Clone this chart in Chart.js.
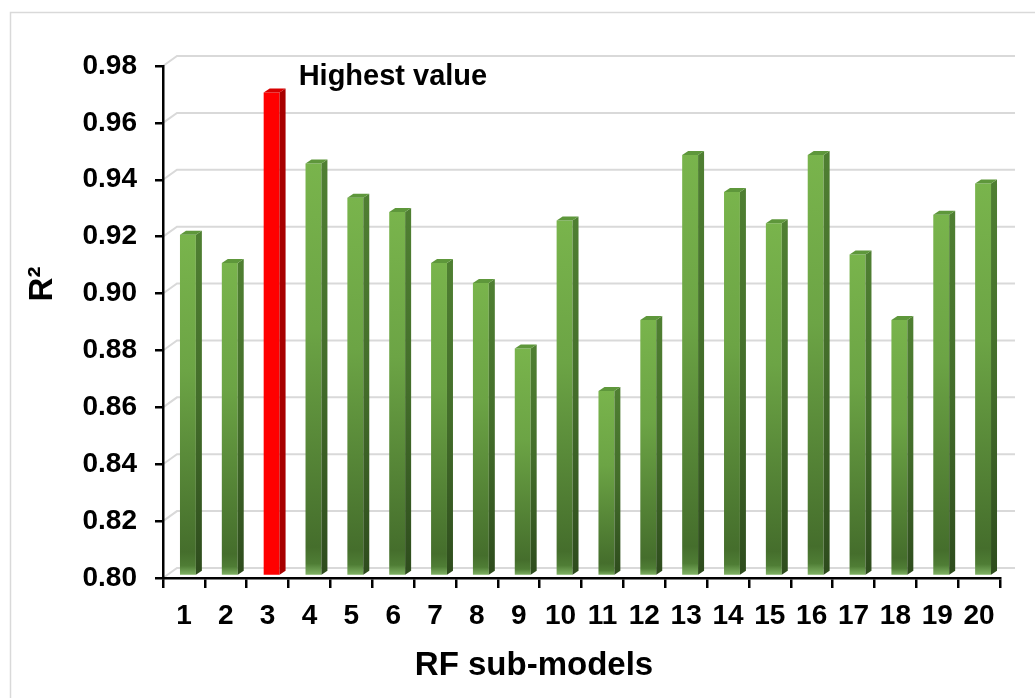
<!DOCTYPE html>
<html>
<head>
<meta charset="utf-8">
<script src="https://cdn.jsdelivr.net/npm/chart.js@4"></script>
<style>
  body { margin: 0; background: #fff; }
  .wrap { width: 1035px; height: 698px; position: relative; }
</style>
</head>
<body>
<div class="wrap"><canvas id="chart"></canvas></div>
<script>
const subModels = ["1", "2", "3", "4", "5", "6", "7", "8", "9", "10",
  "11", "12", "13", "14", "15", "16", "17", "18", "19", "20"];
const r2Values = [0.920, 0.910, 0.970, 0.945, 0.933, 0.928, 0.910, 0.903, 0.880, 0.925,
  0.865, 0.890, 0.948, 0.935, 0.924, 0.948, 0.913, 0.890, 0.927, 0.938];
const yTicks = [0.80, 0.82, 0.84, 0.86, 0.88, 0.90, 0.92, 0.94, 0.96, 0.98];
const noteText = "Highest value";

const topIdx = r2Values.indexOf(Math.max(...r2Values));
const FONT = "'Liberation Sans', Arial, sans-serif";

// front face: gradient per bar, light at top, dark at the floor
function frontFill(c) {
  const chart = c.chart;
  if (!chart.chartArea) return "#70ad47";
  if (c.dataIndex === topIdx) return "#ff0000";
  const y = chart.scales.y;
  const top = y.getPixelForValue(c.raw);
  const bot = y.getPixelForValue(yTicks[0]);
  const g = chart.ctx.createLinearGradient(0, top, 0, bot);
  g.addColorStop(0, "#79b44c");
  g.addColorStop(0.4, "#6ca445");
  g.addColorStop(0.93, "#456e2c");
  g.addColorStop(0.97, "#4f7d35");
  g.addColorStop(1, "#86b96a");
  return g;
}

const bar3d = {
  id: "bar3d",
  beforeDraw(chart) {
    const { ctx, chartArea: a } = chart;
    const y = chart.scales.y;
    ctx.save();
    // outer frame
    ctx.strokeStyle = "#d9d9d9";
    ctx.lineWidth = 1.5;
    ctx.strokeRect(10.5, 12.5, 1100, 800);
    // back wall gridlines
    ctx.lineWidth = 2;
    yTicks.forEach(v => {
      const py = y.getPixelForValue(v);
      ctx.beginPath();
      ctx.moveTo(a.left, py);
      ctx.lineTo(a.left + 14, py - 10);
      ctx.lineTo(a.right + 15, py - 10);
      ctx.stroke();
    });
    ctx.restore();
  },
  beforeDatasetsDraw(chart) {
    chart.ctx.save();
    chart.ctx.translate(4, -2);
  },
  afterDatasetsDraw(chart) {
    const ctx = chart.ctx;
    const meta = chart.getDatasetMeta(0);
    const dx = 6, dy = -4;
    meta.data.forEach((bar, i) => {
      const { x, y, base, width } = bar.getProps(["x", "y", "base", "width"], true);
      const l = x - width / 2, r = x + width / 2;
      const red = i === topIdx;
      // side face
      let g = ctx.createLinearGradient(0, y, 0, base);
      if (red) {
        g = "#a80000";
      } else {
        g.addColorStop(0, "#4f7f32");
        g.addColorStop(0.5, "#436d2a");
        g.addColorStop(1, "#2e4c1d");
      }
      ctx.fillStyle = g;
      ctx.beginPath();
      ctx.moveTo(r, y);
      ctx.lineTo(r + dx, y + dy);
      ctx.lineTo(r + dx, base + dy);
      ctx.lineTo(r, base);
      ctx.closePath();
      ctx.fill();
      // top face
      ctx.fillStyle = red ? "#d80000" : "#5e973b";
      ctx.beginPath();
      ctx.moveTo(l, y);
      ctx.lineTo(l + dx, y + dy);
      ctx.lineTo(r + dx, y + dy);
      ctx.lineTo(r, y);
      ctx.closePath();
      ctx.fill();
    });
    ctx.restore();

    // annotation and axis titles
    const xs = chart.scales.x, ys = chart.scales.y;
    ctx.save();
    ctx.fillStyle = "#000";
    ctx.font = "bold 29px " + FONT;
    ctx.textAlign = "left";
    ctx.textBaseline = "middle";
    ctx.fillText(noteText, xs.getPixelForValue(topIdx) + 31, ys.getPixelForValue(0.976));

    ctx.font = "bold 33px " + FONT;
    ctx.textAlign = "center";
    ctx.fillText("RF sub-models", 534, 666);

    ctx.translate(43, 284);
    ctx.rotate(-Math.PI / 2);
    ctx.fillText("R²", 0, 0);
    ctx.restore();
  }
};

new Chart(document.getElementById("chart"), {
  type: "bar",
  data: {
    labels: subModels,
    datasets: [{
      data: r2Values,
      base: yTicks[0],
      backgroundColor: frontFill,
      borderWidth: 0,
      categoryPercentage: 1,
      barPercentage: 0.38
    }]
  },
  options: {
    responsive: true,
    maintainAspectRatio: false,
    devicePixelRatio: 1,
    animation: false,
    layout: { padding: { left: 0, top: 66, right: 35, bottom: 0 } },
    plugins: { legend: { display: false }, tooltip: { enabled: false } },
    scales: {
      x: {
        offset: true,
        grid: { offset: true, drawOnChartArea: false, tickLength: 10, color: "#000", lineWidth: 2.5 },
        border: { color: "#000", width: 2.5 },
        ticks: { color: "#000", padding: 11, maxRotation: 0, autoSkip: false,
                 font: { family: FONT, size: 28, weight: "bold" } },
        afterFit(s) { s.height = 120; }
      },
      y: {
        min: yTicks[0],
        max: yTicks[yTicks.length - 1],
        afterBuildTicks(s) { s.ticks = yTicks.map(v => ({ value: v })); },
        grid: { drawOnChartArea: false, tickLength: 8, color: "#000", lineWidth: 2.5 },
        border: { color: "#000", width: 2.5 },
        ticks: { color: "#000", padding: 18, callback: v => v.toFixed(2),
                 font: { family: FONT, size: 28, weight: "bold" } },
        afterFit(s) { s.width = 163; }
      }
    }
  },
  plugins: [bar3d]
});
</script>
</body>
</html>
